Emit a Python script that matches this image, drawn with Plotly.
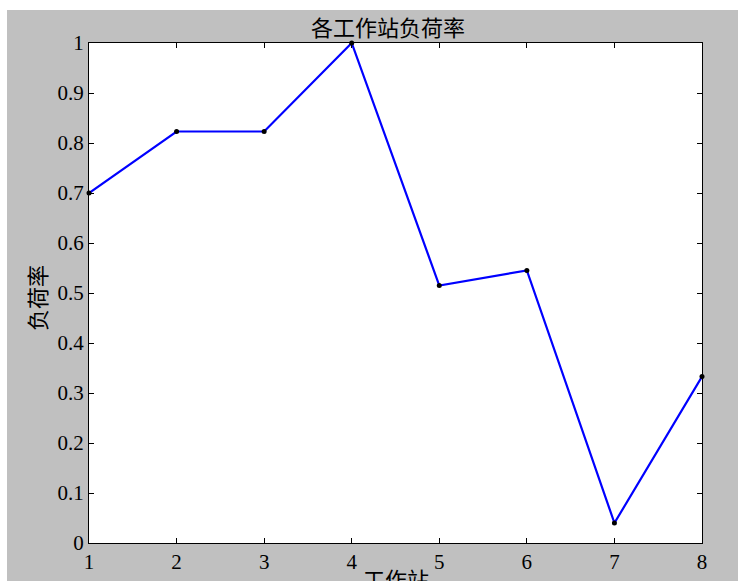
import plotly.graph_objects as go

stations = [1, 2, 3, 4, 5, 6, 7, 8]
load_rate = [0.70, 0.823, 0.823, 1.0, 0.515, 0.545, 0.04, 0.333]
y_ticks = [0, 0.1, 0.2, 0.3, 0.4, 0.5, 0.6, 0.7, 0.8, 0.9, 1]
y_tick_text = ["0", "0.1", "0.2", "0.3", "0.4", "0.5", "0.6", "0.7", "0.8", "0.9", "1"]

# body margin removed by post_script; figure placed at (0, 0)
OFF = 0
W, H = 738, 581
L, T = 89 - OFF, 43 - OFF
R = (W + OFF) - 702
B = 581 - 543
pw, ph = W - L - R, H - T - B

def px(x):  # page x -> paper
    return (x - OFF - L) / pw

def py(y):  # page y -> paper
    return (H - B - (y - OFF)) / ph

serif = "Liberation Serif, Times New Roman, serif"
cjk = "Noto Sans CJK SC, sans-serif"

fig = go.Figure()
fig.add_trace(go.Scatter(
    x=stations, y=load_rate, mode="lines+markers",
    line=dict(color="#0000ff", width=2.2),
    marker=dict(color="black", size=5),
    showlegend=False, cliponaxis=False,
))

fig.update_layout(
    width=W, height=H,
    margin=dict(l=L, r=R, t=T, b=B, autoexpand=False),
    paper_bgcolor="#c0c0c0",
    plot_bgcolor="white",
    xaxis=dict(range=[1, 8], tickvals=stations, ticks="inside", ticklen=5,
               tickcolor="black", showline=True, linecolor="black", linewidth=1,
               mirror="ticks", showgrid=False, zeroline=False, automargin=False,
               tickfont=dict(family=serif, size=21, color="black")),
    yaxis=dict(range=[0, 1], tickvals=y_ticks, ticktext=y_tick_text, ticks="inside",
               ticklen=5, tickcolor="black", showline=True, linecolor="black",
               linewidth=1, mirror="ticks", showgrid=False, zeroline=False,
               automargin=False,
               tickfont=dict(family=serif, size=21, color="black")),
    shapes=[
        dict(type="rect", xref="paper", yref="paper", x0=px(-5), x1=px(760), y0=py(-5), y1=py(10),
             fillcolor="white", line=dict(width=0), layer="below"),
        dict(type="rect", xref="paper", yref="paper", x0=px(-5), x1=px(7), y0=py(600), y1=py(-5),
             fillcolor="white", line=dict(width=0), layer="below"),
    ],
    annotations=[
        dict(text="各工作站负荷率", xref="paper", yref="paper", x=px(388), y=py(26),
             showarrow=False, font=dict(family=cjk, size=22, color="black"),
             xanchor="center", yanchor="middle"),
        dict(text="负荷率", xref="paper", yref="paper", x=px(36), y=py(298),
             showarrow=False, textangle=-90, font=dict(family=cjk, size=22, color="black"),
             xanchor="center", yanchor="middle"),
        dict(text="工作站", xref="paper", yref="paper", x=px(396), y=py(578),
             showarrow=False, font=dict(family=cjk, size=22, color="black"),
             xanchor="center", yanchor="middle"),
    ],
)

fig.write_html("out.html", config={"displayModeBar": False},
               post_script="document.body.style.margin='0';document.body.style.overflow='hidden';")
